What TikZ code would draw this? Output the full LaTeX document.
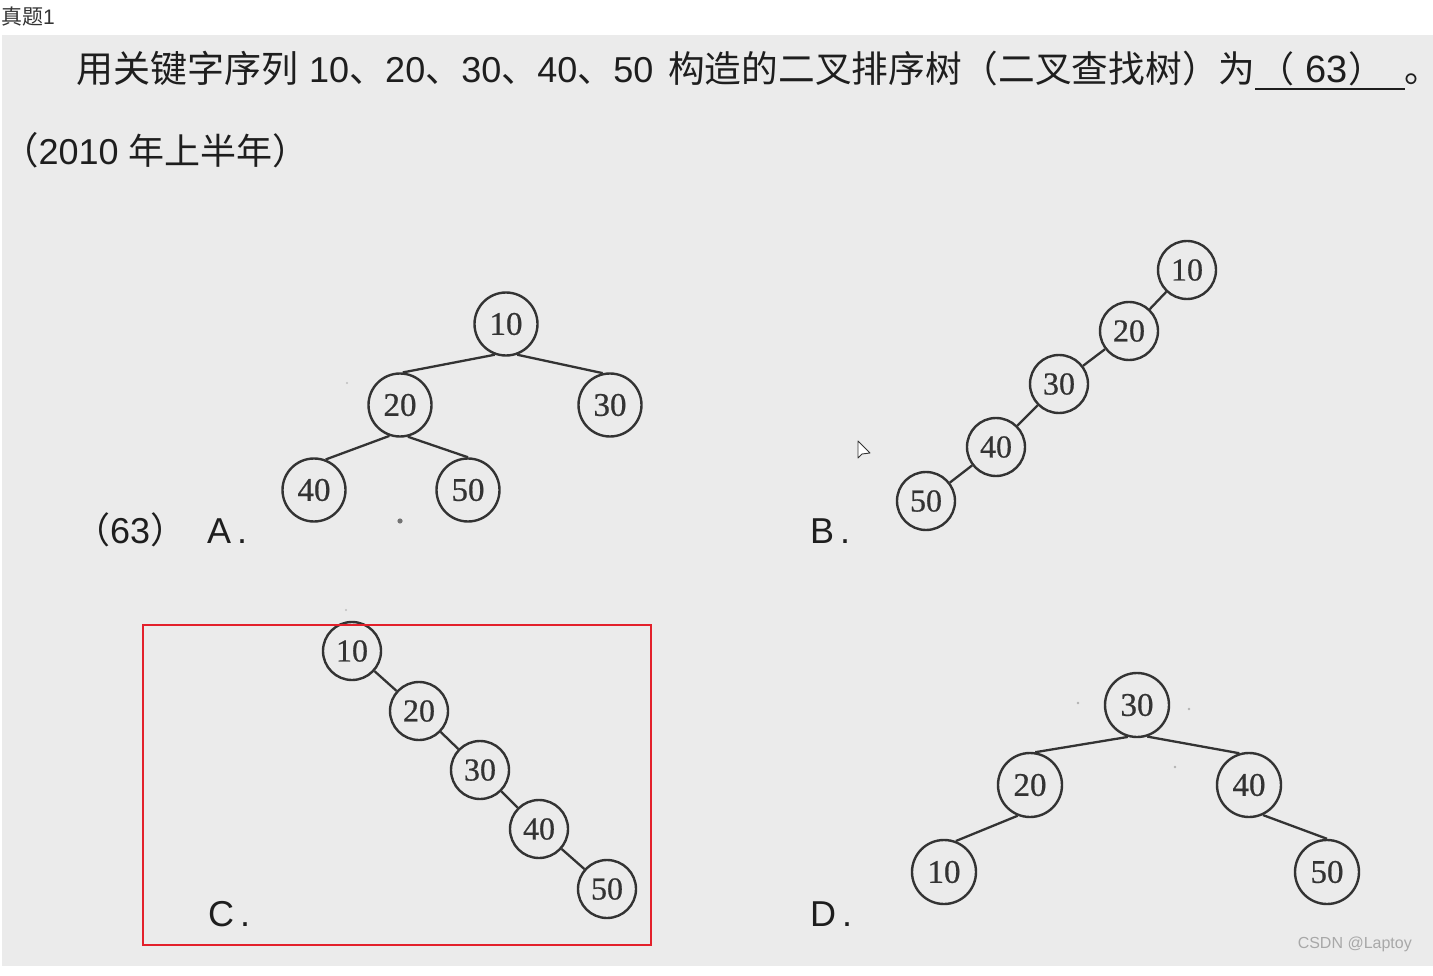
\documentclass[tikz,border=0pt]{standalone}
\usepackage{fontspec}
\setmainfont{Liberation Sans}
\newfontfamily\cjk{Noto Sans CJK SC}
\newfontfamily\numserif[FakeBold=0.6]{Liberation Serif}
\definecolor{bg}{HTML}{EBEBEB}
\definecolor{txt}{HTML}{1E1E1E}
\definecolor{ink}{HTML}{333333}
\definecolor{redbox}{HTML}{E3202B}
\definecolor{wm}{HTML}{A8A8A8}
\tikzset{
  txtline/.style={anchor=base west, inner sep=0pt, text=txt, font=\fontsize{36}{40}\selectfont},
  optlabel/.style={anchor=base west, inner sep=0pt, text=txt, font=\fontsize{36}{40}\selectfont},
  bstbig/.style={circle, draw=ink, line width=2.4pt, minimum size=63pt, inner sep=0pt, text=ink, font=\numserif\fontsize{33}{33}\selectfont},
  bstsmall/.style={bstbig, minimum size=58pt, font=\numserif\fontsize{32}{32}\selectfont},
  bstwide/.style={bstbig, minimum size=64pt},
  treeedge/.style={draw=ink, line width=2.3pt},
  speck/.style={fill=black!55},
}
\begin{document}
\begin{tikzpicture}[x=1pt,y=-1pt]
\useasboundingbox (0,0) rectangle (1433,976);
\fill[white] (0,0) rectangle (1433,976);
\fill[bg] (2,35) rectangle (1433,966);

% title
\node[anchor=base west, inner sep=0pt, text=black!80, font=\fontsize{21}{24}\selectfont] (title) at (1,25) {{\cjk 真题}1};

% question text
\node[txtline, font=\fontsize{37}{40}\selectfont] (q1) at (76,83) {\cjk 用关键字序列};
\node[txtline] (q2) at (309,83) {10{\cjk 、}20{\cjk 、}30{\cjk 、}40{\cjk 、}50};
\node[txtline, font=\fontsize{36.7}{40}\selectfont] (q3) at (668,83) {\cjk 构造的二叉排序树（二叉查找树）为};
\node[txtline] (q4a) at (1258,83) {\makebox[30pt][l]{\cjk （}};
\node[txtline, font=\fontsize{38}{40}\selectfont] (q4b) at (1305,83) {63};
\node[txtline] (q4c) at (1348,83) {\makebox[26pt][l]{\cjk ）}};
\coordinate (ulA) at (1255,89);
\coordinate (ulB) at (1405,89);
\draw[txt, line width=2pt] (ulA) -- (ulB);
\node[txtline] (q5) at (1404,83) {\makebox[16pt][l]{\cjk 。}};
\node[txtline, font=\fontsize{37.5}{40}\selectfont] (q6) at (1,165) {{\cjk （}\fontsize{36}{40}\selectfont 2010 {\cjk 年上半年）}};

% option labels
\node[optlabel] (l63) at (74,543) {{\cjk （}63{\cjk ）}};
\node[optlabel] (lA) at (207,543) {A\hspace{6pt}.};
\node[optlabel] (lB) at (810,543) {B\hspace{6pt}.};
\node[optlabel] (lC) at (208,926) {C\hspace{6pt}.};
\node[optlabel] (lD) at (810,926) {D\hspace{6pt}.};

% tree A
\node[bstbig] (a10) at (506,324) {10};
\node[bstbig] (a20) at (400,405) {20};
\node[bstbig] (a30) at (610,405) {30};
\node[bstbig] (a40) at (314,490) {40};
\node[bstbig] (a50) at (468,490) {50};
\draw[treeedge] (a10.-110) -- (a20.85);
\draw[treeedge] (a10.-70) -- (a30.103);
\draw[treeedge] (a20.-109) -- (a40.69);
\draw[treeedge] (a20.-76) -- (a50.90);

% tree B
\node[bstsmall] (b10) at (1187,270) {10};
\node[bstsmall] (b20) at (1129,331) {20};
\node[bstsmall] (b30) at (1059,384) {30};
\node[bstsmall] (b40) at (996,447) {40};
\node[bstsmall] (b50) at (926,501) {50};
\draw[treeedge] (b10) -- (b20);
\draw[treeedge] (b20) -- (b30);
\draw[treeedge] (b30) -- (b40);
\draw[treeedge] (b40) -- (b50);

% tree C
\node[bstsmall] (c10) at (352,651) {10};
\node[bstsmall] (c20) at (419,711) {20};
\node[bstsmall] (c30) at (480,770) {30};
\node[bstsmall] (c40) at (539,829) {40};
\node[bstsmall] (c50) at (607,889) {50};
\draw[treeedge] (c10) -- (c20);
\draw[treeedge] (c20) -- (c30);
\draw[treeedge] (c30) -- (c40);
\draw[treeedge] (c40) -- (c50);

% tree D
\node[bstwide] (d30) at (1137,705) {30};
\node[bstwide] (d20) at (1030,785) {20};
\node[bstwide] (d40) at (1249,785) {40};
\node[bstwide] (d10) at (944,872) {10};
\node[bstwide] (d50) at (1327,872) {50};
\draw[treeedge] (d30.-106) -- (d20.81);
\draw[treeedge] (d30.-72) -- (d40.107);
\draw[treeedge] (d20.-112) -- (d10.69);
\draw[treeedge] (d40.-65) -- (d50.90);

% highlight box around C
\draw[redbox, line width=2.5pt] (143,625) rectangle (651,945);

% scan specks
\fill[speck] (400,521) circle (2.6);
\fill[black!25] (347,383) circle (1.2);
\fill[black!25] (346,610) circle (1.2);
\fill[black!30] (1078,703) circle (1.3);
\fill[black!30] (1189,709) circle (1.3);
\fill[black!30] (1175,767) circle (1.3);

% mouse pointer
\draw[black!80, fill=white, line width=0.9pt, line join=round] (858,441) -- (858,458) -- (862,454) -- (870,453) -- cycle;

% watermark
\node[anchor=base east, inner sep=0pt, text=wm, font=\fontsize{16}{18}\selectfont] (wmark) at (1412,948) {CSDN @Laptoy};
\end{tikzpicture}
\end{document}
